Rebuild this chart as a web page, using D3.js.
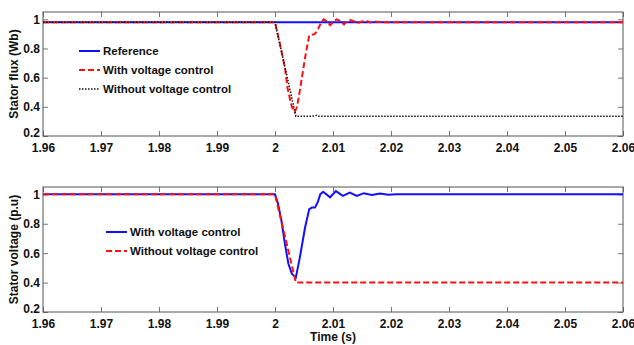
<!DOCTYPE html>
<html lang="en">
<head>
<meta charset="UTF-8">
<title>Stator flux and voltage</title>
<script src="https://d3js.org/d3.v7.min.js"></script>
<style>
    body { margin: 0; background: #fff; }
    svg { display: block; }
    text { font-family: "Liberation Sans", Arial, sans-serif; font-weight: bold; fill: #111; }
    .axis text { font-size: 12px; }
    .axis line { stroke: #777; }
    .axis path { display: none; }
    .label { font-size: 12px; }
    .legend text { font-size: 11.5px; }
</style>
</head>
<body>
<svg id="chart" width="634" height="345"></svg>
<script>
// time ticks and y ticks shared by both panels
const timeTicks = [1.96, 1.97, 1.98, 1.99, 2, 2.01, 2.02, 2.03, 2.04, 2.05, 2.06];
const yTicks = [0.2, 0.4, 0.6, 0.8, 1];

// top panel: stator flux
const fluxRefT = [1.96, 2.06];
const fluxRefV = [0.98, 0.98];
const fluxWithT = [1.96, 2.000, 2.0008, 2.0017, 2.0022, 2.0029, 2.0034, 2.0038, 2.0043, 2.0052, 2.0059, 2.0063, 2.0067, 2.0072, 2.0080,
    2.0084, 2.0090, 2.0095, 2.0100, 2.0106, 2.0112, 2.0119, 2.0124, 2.0130, 2.0137, 2.0143, 2.0150, 2.0157, 2.0164, 2.0172, 2.0180, 2.0190, 2.0200, 2.06];
const fluxWithV = [0.98, 0.98, 0.84, 0.67, 0.52, 0.40, 0.365, 0.40, 0.515, 0.74, 0.89, 0.895, 0.895, 0.915, 0.98,
    1.0, 0.985, 0.96, 0.98, 1.0, 0.99, 0.965, 0.985, 0.995, 0.985, 0.975, 0.985, 0.99, 0.978, 0.985, 0.982, 0.98, 0.98, 0.98];
const fluxWithoutT = [1.96, 2.000, 2.0036, 2.0062, 2.0068, 2.0072, 2.0076, 2.06];
const fluxWithoutV = [0.98, 0.98, 0.335, 0.335, 0.338, 0.342, 0.335, 0.335];

// bottom panel: stator voltage
const voltWithT = [1.96, 2.000, 2.0005, 2.0011, 2.0017, 2.0023, 2.0029, 2.0036, 2.0043, 2.0052, 2.0059, 2.0064, 2.0069, 2.0074, 2.0078,
    2.0083, 2.0095, 2.0105, 2.0117, 2.0129, 2.0141, 2.0153, 2.0167, 2.0181, 2.0195, 2.0210, 2.06];
const voltWithV = [1, 1, 0.94, 0.824, 0.666, 0.53, 0.46, 0.435, 0.575, 0.778, 0.90, 0.91, 0.91, 0.95, 1.0,
    1.018, 0.98, 1.022, 0.99, 1.012, 0.99, 1.008, 0.995, 1.005, 0.998, 1.0, 1.0];
const voltWithoutT = [1.96, 2.000, 2.0036, 2.06];
const voltWithoutV = [1, 1, 0.40, 0.40];

const svg = d3.select("#chart");
const left = 43, right = 623;

function panel(top, bottom, series, yTitle, legendX, legendY) {
    const x = d3.scaleLinear().domain([1.96, 2.06]).range([left, right]);
    const y = d3.scaleLinear().domain([0.2, 1.05]).range([bottom, top]);
    const g = svg.append("g");

    g.append("g").attr("class", "axis")
        .attr("transform", `translate(0,${bottom})`)
        .call(d3.axisBottom(x).tickValues(timeTicks).tickFormat(d3.format("")).tickSizeInner(-5).tickSizeOuter(0).tickPadding(7));
    g.append("g").attr("class", "axis")
        .attr("transform", `translate(0,${top})`)
        .call(d3.axisTop(x).tickValues(timeTicks).tickFormat("").tickSizeInner(-5).tickSizeOuter(0));
    const yAxis = g.append("g").attr("class", "axis")
        .attr("transform", `translate(${left},0)`)
        .call(d3.axisLeft(y).tickValues(yTicks).tickFormat(d3.format("")).tickSizeInner(-5).tickSizeOuter(0).tickPadding(3));
    // lowest label sits just above the time labels, as in the original
    yAxis.selectAll(".tick text").filter(d => d === 0.2).attr("y", -3);
    g.append("g").attr("class", "axis")
        .attr("transform", `translate(${right},0)`)
        .call(d3.axisRight(y).tickValues(yTicks).tickFormat("").tickSizeInner(-5).tickSizeOuter(0));

    g.append("rect")
        .attr("x", left).attr("y", top)
        .attr("width", right - left).attr("height", bottom - top)
        .attr("fill", "none").attr("stroke", "#555").attr("stroke-width", 1);

    const line = d3.line().x(d => x(d[0])).y(d => y(d[1]));
    series.forEach(s => {
        g.append("path")
            .datum(s.t.map((t, i) => [t, s.v[i]]))
            .attr("fill", "none")
            .attr("stroke", s.color)
            .attr("stroke-width", s.width)
            .attr("stroke-dasharray", s.dash)
            .attr("d", line);
    });

    g.append("text").attr("class", "label")
        .attr("transform", `translate(18,${(top + bottom) / 2}) rotate(-90)`)
        .attr("text-anchor", "middle")
        .text(yTitle);

    const leg = g.append("g").attr("class", "legend");
    series.forEach((s, i) => {
        const ly = legendY + i * 19;
        leg.append("line")
            .attr("x1", legendX).attr("x2", legendX + 21)
            .attr("y1", ly).attr("y2", ly)
            .attr("stroke", s.color).attr("stroke-width", s.width)
            .attr("stroke-dasharray", s.dash);
        leg.append("text")
            .attr("x", legendX + 24).attr("y", ly + 4)
            .text(s.name);
    });
}

panel(12, 136, [
    { name: "Reference", t: fluxRefT, v: fluxRefV, color: "#1010ff", width: 2, dash: null },
    { name: "With voltage control", t: fluxWithT, v: fluxWithV, color: "#ff1010", width: 2, dash: "6,3" },
    { name: "Without voltage control", t: fluxWithoutT, v: fluxWithoutV, color: "#111", width: 1.5, dash: "1.5,1.5" }
], "Stator flux (Wb)", 79, 51);

panel(187, 312, [
    { name: "With voltage control", t: voltWithT, v: voltWithV, color: "#1010ff", width: 2, dash: null },
    { name: "Without voltage control", t: voltWithoutT, v: voltWithoutV, color: "#ff1010", width: 2, dash: "6,3" }
], "Stator voltage (p.u)", 106, 232);

svg.append("text").attr("class", "label")
    .attr("x", (left + right) / 2).attr("y", 341)
    .attr("text-anchor", "middle")
    .text("Time (s)");
</script>
</body>
</html>
